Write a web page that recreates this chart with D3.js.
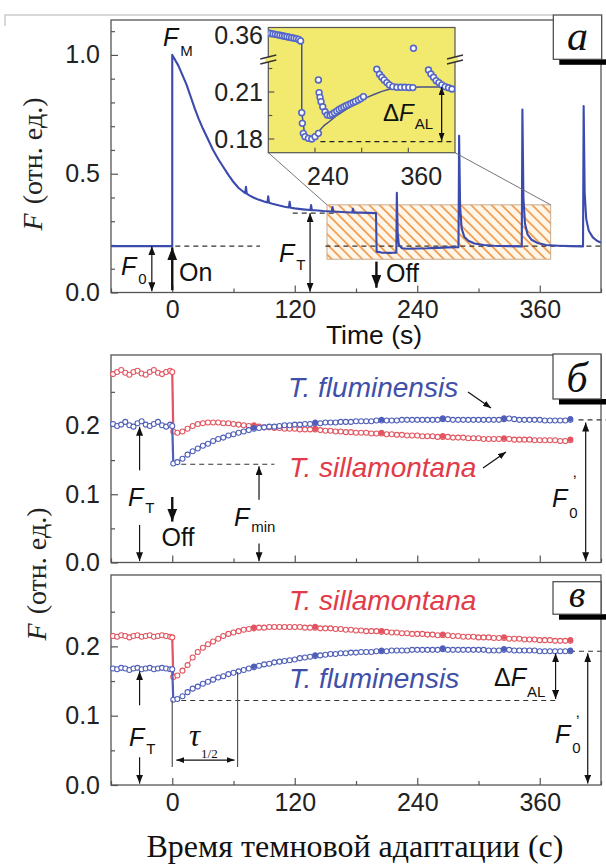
<!DOCTYPE html>
<html><head><meta charset="utf-8">
<script src="https://cdn.jsdelivr.net/npm/d3@7"></script>
<style>body{margin:0;background:#fff}svg{display:block}</style>
</head><body>
<svg id="c" width="606" height="866"></svg>
<script>
// ---------- DATA ----------
const xMajor = [0, 120, 240, 360];
const xMinor = [-60, 60, 180, 300, 420];
const yMajorA = [0, 0.5, 1.0];
const yMinorA = [0.1, 0.2, 0.3, 0.4, 0.6, 0.7, 0.8, 0.9, 1.1];
const yMajorBC = [0, 0.1, 0.2];
const yMinorBC = [0.05, 0.15, 0.25];
const insetYMajor = [0.18, 0.21, 0.36];
const insetYMinor = [0.195, 0.225];
const insetXMajor = [240, 360];
const insetXMinor = [300];

// Panel a: fluorescence trace
const traceT = [-60,0,0,2,6,10,14,18,22,26,30,35,40,45,50,55,60,65,70,71.5,72.2,73,75,80,85,90,93.3,94,94.8,98,105,110,114.3,115,115.8,120,128,135.3,136,136.8,140,148,156.3,157,157.8,162,170,176.3,177,177.8,185,192,199.6,200.2,205,210,215,219.5,220,220.8,222,225,230,240,250,260,270,280.4,281,282,283.5,286,290,296,305,315,330,342.4,343,344,345.5,348,352,358,366,378,390,402.4,403,404,405.5,408,412,416,420];
const traceF = [0.195,0.195,1.0,0.985,0.955,0.915,0.875,0.825,0.775,0.73,0.69,0.645,0.60,0.562,0.528,0.495,0.465,0.44,0.423,0.418,0.445,0.416,0.410,0.399,0.39,0.383,0.379,0.405,0.378,0.374,0.366,0.361,0.358,0.382,0.357,0.354,0.35,0.347,0.368,0.346,0.346,0.343,0.341,0.36,0.34,0.34,0.338,0.337,0.352,0.336,0.336,0.335,0.334,0.172,0.168,0.167,0.167,0.168,0.42,0.25,0.2,0.186,0.184,0.185,0.186,0.188,0.19,0.191,0.66,0.36,0.27,0.235,0.218,0.206,0.2,0.197,0.195,0.194,0.77,0.40,0.29,0.245,0.222,0.208,0.2,0.197,0.195,0.194,0.785,0.42,0.31,0.26,0.232,0.218,0.21];
const F0a = 0.195, FTa = 0.334;

// Inset (zoomed part of panel a)
const insetT = [180,183,186,189,192,195,198,201,204,207,210,213,216,219,221.5,
  223,223.8,225,227.2,231.5,235.9,240.1,244.4,
  244.4,245.3,246.5,247.8,250,253,255.9,259.4,
  262,265,268,271,274,277,280,283,286,289,292,295.8,299,302.3,
  319.5,322.9,325.9,328.9,332.4,335.7,340.1,345.3,350.4,355.5,360.7,365.8,
  366.6,
  385.9,389,392.4,395.8,399.3,403.1,407.4,411.7,416];
const insetV = [0.3613,0.3610,0.3607,0.3604,0.3601,0.3598,0.3595,0.3592,0.3589,0.3586,0.3583,0.358,0.3577,0.3572,0.3562,
  0.1968,0.190,0.1836,0.1815,0.1804,0.180,0.1815,0.1836,
  0.2177,0.2096,0.2066,0.2038,0.2006,0.1974,0.1953,0.1950,
  0.1958,0.1968,0.1978,0.1988,0.1997,0.2005,0.2012,0.2019,0.2026,0.2033,0.2040,0.2049,0.2058,0.2070,
  0.2245,0.2213,0.2194,0.2177,0.216,0.2145,0.2134,0.213,0.213,0.213,0.2129,0.2128,
  0.3515,
  0.224,0.2215,0.2194,0.2172,0.216,0.2145,0.2134,0.2127,0.2119];
const fitT = [180,221.5,223,223,226,228.5,231,234,237.5,242,246.5,252,259.4,268,278.7,288,298,307,317.3,326,336.6,346,356,375,420];
const fitV = [0.3613,0.3562,0.3558,0.1972,0.1857,0.1822,0.1806,0.1803,0.1813,0.1833,0.1857,0.1887,0.1915,0.1950,0.1985,0.2015,0.2042,0.2066,0.2087,0.2104,0.2119,0.2126,0.2129,0.2132,0.2132];

// Panels б and в: dark adaptation
const tB = [-58,-54,-50,-46,-42,-38,-34,-30,-26,-22,-18,-14,-10,-6,-2,0,1,5,10,15,20,25,30,35,40,45,50,55,60,65,70,75,80,85,90,95,100,105,110,115,120,125,130,135,140,145,150,155,160,165,170,175,180,185,190,195,200,205,210,215,220,225,230,235,240,245,250,255,260,265,270,275,280,285,290,295,300,305,310,315,320,325,330,335,340,345,350,355,360,365,370,375,380,385,390];
const pulseT = [80, 140, 205, 265, 325, 390];

const fluB = [0.203,0.200,0.202,0.206,0.201,0.199,0.204,0.207,0.202,0.200,0.203,0.206,0.201,0.199,0.202,0.200,
  0.145,0.147,0.152,0.158,0.163,0.167,0.171,0.174,0.178,0.181,0.183,0.186,0.188,0.190,0.192,0.194,0.196,0.197,0.198,0.199,
  0.199,0.200,0.201,0.201,0.202,0.202,0.203,0.203,0.204,0.204,0.205,0.205,0.205,0.206,0.206,0.206,0.207,0.207,0.207,0.207,
  0.208,0.208,0.208,0.208,0.208,0.209,0.209,0.209,0.209,0.209,0.209,0.209,0.209,0.210,0.210,0.209,0.209,0.209,0.209,0.209,
  0.209,0.209,0.209,0.209,0.209,0.210,0.211,0.210,0.209,0.209,0.209,0.209,0.209,0.208,0.208,0.208,0.208,0.208,0.209];
const silB = [0.276,0.279,0.282,0.278,0.275,0.279,0.281,0.277,0.275,0.279,0.282,0.278,0.276,0.279,0.281,0.279,
  0.192,0.190,0.192,0.196,0.200,0.203,0.204,0.205,0.205,0.205,0.204,0.204,0.203,0.202,0.201,0.200,0.200,0.199,0.198,0.198,
  0.197,0.197,0.196,0.196,0.196,0.195,0.195,0.195,0.195,0.194,0.193,0.193,0.192,0.192,0.191,0.191,0.190,0.190,0.190,0.189,
  0.189,0.189,0.188,0.188,0.187,0.187,0.186,0.186,0.186,0.185,0.185,0.185,0.184,0.184,0.184,0.183,0.183,0.183,0.182,0.182,
  0.182,0.181,0.181,0.181,0.181,0.181,0.181,0.180,0.180,0.180,0.180,0.179,0.179,0.179,0.179,0.179,0.178,0.178,0.179];
const fluC = [0.168,0.167,0.169,0.168,0.166,0.168,0.169,0.167,0.168,0.169,0.167,0.168,0.169,0.168,0.167,0.167,
  0.123,0.124,0.128,0.134,0.139,0.142,0.146,0.149,0.152,0.155,0.157,0.160,0.162,0.164,0.166,0.168,0.170,0.172,0.174,0.175,
  0.177,0.178,0.179,0.180,0.181,0.183,0.184,0.185,0.186,0.187,0.188,0.189,0.189,0.190,0.190,0.191,0.191,0.192,0.192,0.192,
  0.193,0.193,0.193,0.194,0.194,0.194,0.194,0.195,0.195,0.195,0.195,0.195,0.195,0.196,0.195,0.195,0.195,0.195,0.195,0.195,
  0.195,0.195,0.194,0.194,0.194,0.195,0.195,0.194,0.194,0.194,0.194,0.194,0.193,0.193,0.193,0.193,0.193,0.193,0.193];
const silC = [0.215,0.214,0.216,0.215,0.213,0.215,0.216,0.214,0.215,0.216,0.214,0.215,0.216,0.215,0.214,0.213,
  0.156,0.158,0.165,0.173,0.184,0.192,0.198,0.203,0.207,0.211,0.215,0.218,0.220,0.222,0.224,0.225,0.226,0.227,0.227,0.228,
  0.228,0.228,0.228,0.228,0.228,0.228,0.227,0.227,0.227,0.226,0.226,0.226,0.225,0.225,0.224,0.224,0.223,0.223,0.222,0.222,
  0.222,0.221,0.221,0.220,0.220,0.219,0.219,0.218,0.218,0.218,0.217,0.217,0.216,0.216,0.216,0.215,0.215,0.214,0.214,0.214,
  0.213,0.213,0.213,0.212,0.212,0.212,0.211,0.211,0.211,0.210,0.210,0.210,0.209,0.209,0.209,0.208,0.208,0.208,0.208];

// ---------- DRAW ----------
const BLUE = '#3a4aad', SBLUE = '#4f5fb8', SRED = '#e25560';
const SANS = "'Liberation Sans', Arial, sans-serif";
const SERIF = "'Liberation Serif', 'Times New Roman', serif";
const svg = d3.select('#c');
const defs = svg.append('defs');

function marker(id, w, l, color) {
  defs.append('marker').attr('id', id).attr('viewBox', `0 0 ${l} ${w}`)
    .attr('refX', l).attr('refY', w / 2).attr('markerWidth', l).attr('markerHeight', w)
    .attr('markerUnits', 'userSpaceOnUse').attr('orient', 'auto-start-reverse')
    .append('path').attr('d', `M0,0 L${l},${w/2} L0,${w} z`).attr('fill', color);
}
marker('ah', 7, 9, '#111');
marker('ahb', 10, 13, '#111');
marker('ahs', 6, 8, '#111');

const pat = defs.append('pattern').attr('id', 'hatch').attr('patternUnits', 'userSpaceOnUse')
  .attr('width', 7.2).attr('height', 7.2).attr('patternTransform', 'rotate(-45)');
pat.append('rect').attr('width', 7.2).attr('height', 7.2).attr('fill', '#fff6ea');
pat.append('line').attr('x1', 1).attr('y1', 0).attr('x2', 1).attr('y2', 7.2)
  .attr('stroke', '#f09a4c').attr('stroke-width', 1.7);

const x = d3.scaleLinear().domain([-60, 420]).range([111, 601]);
const yA = d3.scaleLinear().domain([0, 1.147]).range([292.5, 20]);
const yB = d3.scaleLinear().domain([0, 0.304]).range([562.5, 355]);
const yC = d3.scaleLinear().domain([0, 0.303]).range([785, 575]);

function styleAxis(g) {
  g.select('.domain').remove();
  g.selectAll('line').attr('stroke', '#555').attr('stroke-width', 1.2);
  g.selectAll('text').attr('font-family', SANS).attr('font-size', 25).attr('fill', '#222');
}
function axes(y, yMaj, yMin, xLabels) {
  const yb = y.range()[0], yt = y.range()[1];
  const gb = svg.append('g').attr('transform', `translate(0,${yb})`);
  gb.call(d3.axisBottom(x).tickValues(xMajor).tickSize(-7).tickPadding(8)
    .tickFormat(xLabels ? d3.format('d') : () => ''));
  styleAxis(gb);
  const gbm = svg.append('g').attr('transform', `translate(0,${yb})`);
  gbm.call(d3.axisBottom(x).tickValues(xMinor).tickSize(-4).tickFormat(() => ''));
  styleAxis(gbm);
  const gl = svg.append('g').attr('transform', `translate(${x.range()[0]},0)`);
  gl.call(d3.axisLeft(y).tickValues(yMaj).tickSize(-7).tickPadding(11).tickFormat(d3.format('.1f')));
  styleAxis(gl);
  const glm = svg.append('g').attr('transform', `translate(${x.range()[0]},0)`);
  glm.call(d3.axisLeft(y).tickValues(yMin).tickSize(-4).tickFormat(() => ''));
  styleAxis(glm);
  svg.append('rect').attr('x', x.range()[0]).attr('y', yt)
    .attr('width', x.range()[1] - x.range()[0]).attr('height', yb - yt)
    .attr('fill', 'none').attr('stroke', '#555').attr('stroke-width', 1.3);
}
function arrow(x1, y1, x2, y2, opt = {}) {
  const l = svg.append('line').attr('x1', x1).attr('y1', y1).attr('x2', x2).attr('y2', y2)
    .attr('stroke', '#111').attr('stroke-width', opt.w || 1.2);
  l.attr('marker-end', `url(#${opt.m || 'ah'})`);
  if (opt.both) l.attr('marker-start', `url(#${opt.m || 'ah'})`);
  return l;
}
function dashed(x1, x2, yv, opt = {}) {
  svg.append('line').attr('x1', x1).attr('x2', x2).attr('y1', yv).attr('y2', yv)
    .attr('stroke', opt.c || '#333').attr('stroke-width', opt.w || 1.1)
    .attr('stroke-dasharray', opt.d || '5,4');
}
function flabel(px, py, main, sub, o = {}) {
  const t = svg.append('text').attr('x', px).attr('y', py).attr('font-family', SANS)
    .attr('font-size', o.size || 25).attr('fill', '#111');
  if (o.pre) t.append('tspan').text(o.pre);
  t.append('tspan').attr('font-style', 'italic').text(main);
  t.append('tspan').attr('font-size', o.subSize || 15).attr('dx', o.dx || 2).attr('dy', o.dy || 8).text(sub);
  return t;
}
function plain(px, py, s, o = {}) {
  return svg.append('text').attr('x', px).attr('y', py).attr('font-family', o.family || SANS)
    .attr('font-size', o.size || 25).attr('fill', o.color || '#111')
    .attr('font-style', o.italic ? 'italic' : 'normal')
    .attr('text-anchor', o.anchor || 'start').text(s);
}
function boxLabel(bx, by, bw, bh, s, base, size) {
  svg.append('rect').attr('x', bx + 6).attr('y', by + bh).attr('width', 606 - bx - 6).attr('height', 5.5).attr('fill', '#000');
  svg.append('rect').attr('x', bx).attr('y', by).attr('width', bw).attr('height', bh)
    .attr('fill', '#fff').attr('stroke', '#444').attr('stroke-width', 1.2);
  plain(bx + bw / 2, base, s, { family: SERIF, size: size, italic: true, anchor: 'middle' });
}

// top scan edge
svg.append('path').attr('d', 'M5,26 L5,15 L553,15').attr('fill', 'none').attr('stroke', '#ccc').attr('stroke-width', 1.5);

// ===== Panel a =====
const hatchT = [151.6, 370.7], hatchF = [0.14, 0.369];
svg.append('rect').attr('x', x(hatchT[0])).attr('y', yA(hatchF[1]))
  .attr('width', x(hatchT[1]) - x(hatchT[0])).attr('height', yA(hatchF[0]) - yA(hatchF[1]))
  .attr('fill', 'url(#hatch)').attr('stroke', '#c9ab8c').attr('stroke-width', 1);
dashed(x(3), x(86), yA(F0a));
dashed(x(150), 604, yA(F0a));
dashed(x(118), x(160), yA(FTa));
axes(yA, yMajorA, yMinorA, true);
svg.append('path').datum(traceT.map((t, i) => [t, traceF[i]]))
  .attr('d', d3.line().x(d => x(d[0])).y(d => yA(d[1])))
  .attr('fill', 'none').attr('stroke', BLUE).attr('stroke-width', 2.1).attr('stroke-linejoin', 'round');

// inset
const ix = d3.scaleLinear().domain([180, 420]).range([268.3, 455]);
const iyLow = d3.scaleLinear().domain([0.18, 0.21]).range([139, 92]);
const iyUp = d3.scaleLinear().domain([0.36, 0.39]).range([35, -12]);
const iy = v => v > 0.3 ? iyUp(v) : iyLow(v);
const inTop = 27.5, inBot = 152.7;
svg.append('line').attr('x1', ix(180)).attr('y1', inBot).attr('x2', x(hatchT[0])).attr('y2', yA(hatchF[1])).attr('stroke', '#666').attr('stroke-width', 0.9);
svg.append('line').attr('x1', ix(420)).attr('y1', inBot).attr('x2', x(hatchT[1])).attr('y2', yA(hatchF[1])).attr('stroke', '#666').attr('stroke-width', 0.9);
svg.append('rect').attr('x', ix(180)).attr('y', inTop).attr('width', ix(420) - ix(180)).attr('height', inBot - inTop)
  .attr('fill', '#f2ea6e').attr('stroke', '#555').attr('stroke-width', 1.2);
const clip = defs.append('clipPath').attr('id', 'inclip');
clip.append('rect').attr('x', ix(180)).attr('y', inTop).attr('width', ix(420) - ix(180)).attr('height', inBot - inTop);
const gi = svg.append('g');
insetYMajor.concat(insetYMinor).forEach(v => {
  const major = insetYMajor.includes(v);
  gi.append('line').attr('x1', ix(180)).attr('x2', ix(180) + (major ? 6 : 4)).attr('y1', iy(v)).attr('y2', iy(v)).attr('stroke', '#555').attr('stroke-width', 1.2);
  if (major) gi.append('text').attr('x', 263).attr('y', iy(v)).attr('dy', '0.35em').attr('text-anchor', 'end')
    .attr('font-family', SANS).attr('font-size', 25).attr('fill', '#222').text(d3.format('.2f')(v));
});
insetXMajor.concat(insetXMinor).forEach(t => {
  gi.append('line').attr('x1', ix(t)).attr('x2', ix(t)).attr('y1', inBot).attr('y2', inBot - 5).attr('stroke', '#555').attr('stroke-width', 1.2);
  if (insetXMajor.includes(t)) gi.append('text').attr('x', ix(t) + 13).attr('y', 185).attr('text-anchor', 'middle')
    .attr('font-family', SANS).attr('font-size', 25).attr('fill', '#222').text(t);
});
svg.append('line').attr('x1', ix(247)).attr('x2', ix(420)).attr('y1', iy(0.1783)).attr('y2', iy(0.1783))
  .attr('stroke', '#222').attr('stroke-width', 1.2).attr('stroke-dasharray', '5,4');
const gin = svg.append('g').attr('clip-path', 'url(#inclip)');
gin.append('path').datum(fitT.map((t, i) => [t, fitV[i]]))
  .attr('d', d3.line().x(d => ix(d[0])).y(d => iy(d[1])))
  .attr('fill', 'none').attr('stroke', '#4a5288').attr('stroke-width', 1.5);
gin.selectAll('circle.ip').data(insetT.map((t, i) => [t, insetV[i]])).join('circle')
  .attr('cx', d => ix(d[0])).attr('cy', d => iy(d[1])).attr('r', 2.9)
  .attr('fill', '#fff').attr('stroke', '#5466c6').attr('stroke-width', 1.6);
[ix(180), ix(420)].forEach(bx => {
  svg.append('rect').attr('x', bx - 3).attr('y', 57).attr('width', 6).attr('height', 5).attr('fill', '#f2ea6e');
  svg.append('line').attr('x1', bx - 8).attr('y1', 59).attr('x2', bx + 8).attr('y2', 55).attr('stroke', '#333').attr('stroke-width', 1.3);
  svg.append('line').attr('x1', bx - 8).attr('y1', 64).attr('x2', bx + 8).attr('y2', 60).attr('stroke', '#333').attr('stroke-width', 1.3);
});
arrow(ix(402.8), iy(0.1788), ix(402.8), iy(0.2132), { both: true, m: 'ahs', w: 1.3 });
flabel(383, 121, 'F', 'AL', { pre: 'Δ', size: 24, dy: 8, dx: 1 });

// panel a annotations
arrow(x(-20), yA(0.005), x(-20), yA(F0a), { both: true });
arrow(x(0), yA(0.01), x(0), yA(0.19), { m: 'ahb', w: 2.4 });
arrow(x(135), yA(0.003), x(135), yA(FTa), { both: true });
arrow(x(200), yA(0.13), x(200), yA(0.02), { m: 'ahb', w: 2.4 });
flabel(163, 46, 'F', 'M', { dy: 10 });
flabel(121, 275, 'F', '0', { dy: 9 });
flabel(279, 262, 'F', 'T', { dy: 8 });
plain(179, 281, 'On');
plain(386, 282, 'Off');
plain(374, 344, 'Time (s)', { anchor: 'middle', size: 26.5 });
boxLabel(553.3, 15, 48.4, 44.3, 'а', 50, 42);
const yl1 = svg.append('text').attr('transform', 'translate(42,164) rotate(-90)').attr('text-anchor', 'middle')
  .attr('font-family', SERIF).attr('font-size', 28).attr('fill', '#222');
yl1.append('tspan').attr('font-style', 'italic').text('F');
yl1.append('tspan').attr('dx', 9).text('(отн. ед.)');

// ===== series helper =====
function series(y, vals, color) {
  const pts = tB.map((t, i) => [t, vals[i]]);
  const g = svg.append('g');
  g.append('path').datum(pts).attr('d', d3.line().x(d => x(d[0])).y(d => y(d[1])))
    .attr('fill', 'none').attr('stroke', color).attr('stroke-width', 1);
  const i0 = tB.indexOf(0);
  g.append('line').attr('x1', x(0)).attr('x2', x(1)).attr('y1', y(vals[i0])).attr('y2', y(vals[i0 + 1]))
    .attr('stroke', color).attr('stroke-width', 2.2);
  g.selectAll('circle.p').data(pts).join('circle')
    .attr('cx', d => x(d[0])).attr('cy', d => y(d[1])).attr('r', 2.5)
    .attr('fill', '#fff').attr('stroke', color).attr('stroke-width', 1.1);
  g.selectAll('circle.q').data(pulseT.map(t => [t, vals[tB.indexOf(t)]])).join('circle')
    .attr('cx', d => x(d[0])).attr('cy', d => y(d[1]) - 1).attr('r', 2.8).attr('fill', color);
}

// ===== Panel б =====
dashed(x(0), x(100), yB(0.144));
dashed(x(398), 606, yB(0.209));
axes(yB, yMajorBC, yMinorBC, false);
series(yB, silB, SRED);
series(yB, fluB, SBLUE);
arrow(x(-32), yB(0.135), x(-32), yB(0.199));
arrow(x(-32), yB(0.055), x(-32), yB(0.002));
arrow(x(0), yB(0.096), x(0), yB(0.06), { m: 'ahb', w: 2.4 });
arrow(x(85), yB(0.092), x(85), yB(0.141));
arrow(x(85), yB(0.028), x(85), yB(0.002));
arrow(x(405), yB(0.205), x(405), yB(0.002), { both: true });
flabel(128, 506, 'F', 'T', { dy: 7 });
plain(178, 546, 'Off', { anchor: 'middle' });
flabel(234, 526, 'F', 'min', { dy: 6 });
flabel(552, 507, 'F', '0', { dy: 11 });
plain(573, 488, '\u02BC', { size: 16 });
plain(288, 397, 'T. fluminensis', { italic: true, color: '#4050a8', size: 28 });
plain(289, 477, 'T. sillamontana', { italic: true, color: '#e23a48', size: 28 });
arrow(468, 392, 491, 408, { m: 'ahs', w: 1.2 });
arrow(483, 468, 506, 452, { m: 'ahs', w: 1.2 });
boxLabel(553, 354, 48, 45, 'б', 392, 42);

// ===== Panel в =====
dashed(x(0), x(377), yC(0.122));
dashed(x(372), 606, yC(0.193));
axes(yC, yMajorBC, yMinorBC, true);
series(yC, silC, SRED);
series(yC, fluC, SBLUE);
svg.append('line').attr('x1', x(0)).attr('x2', x(0)).attr('y1', yC(0.122)).attr('y2', yC(0.026)).attr('stroke', '#555').attr('stroke-width', 1.2);
svg.append('line').attr('x1', x(64)).attr('x2', x(64)).attr('y1', yC(0.163)).attr('y2', yC(0.026)).attr('stroke', '#555').attr('stroke-width', 1.2);
arrow(x(4), yC(0.036), x(61), yC(0.036), { both: true, m: 'ahs' });
arrow(x(-32), yC(0.115), x(-32), yC(0.164));
arrow(x(-32), yC(0.04), x(-32), yC(0.002));
arrow(x(375.5), yC(0.124), x(375.5), yC(0.19), { both: true });
arrow(x(407), yC(0.19), x(407), yC(0.002), { both: true });
flabel(129, 746, 'F', 'T', { dy: 8 });
const tau = svg.append('text').attr('x', 189).attr('y', 746).attr('font-family', SERIF).attr('font-size', 31).attr('fill', '#111');
tau.append('tspan').attr('font-style', 'italic').text('τ');
tau.append('tspan').attr('font-size', 13).attr('dx', 1).attr('dy', 12).text('1/2');
flabel(494, 686, 'F', 'AL', { pre: 'Δ', dy: 11, dx: 1 });
flabel(555, 743, 'F', '0', { dy: 10 });
plain(576, 728, '\u02BC', { size: 16 });
plain(289, 610, 'T. sillamontana', { italic: true, color: '#e23a48', size: 28 });
plain(289, 688, 'T. fluminensis', { italic: true, color: '#4050a8', size: 28 });
boxLabel(553, 581.7, 48, 32.5, 'в', 607, 38);

const yl2 = svg.append('text').attr('transform', 'translate(46,574) rotate(-90)').attr('text-anchor', 'middle')
  .attr('font-family', SERIF).attr('font-size', 28).attr('fill', '#222');
yl2.append('tspan').attr('font-style', 'italic').text('F');
yl2.append('tspan').attr('dx', 9).text('(отн. ед.)');

plain(355, 857, 'Время темновой адаптации (с)', { family: SERIF, size: 32, anchor: 'middle', color: '#111' });
</script>
</body></html>
